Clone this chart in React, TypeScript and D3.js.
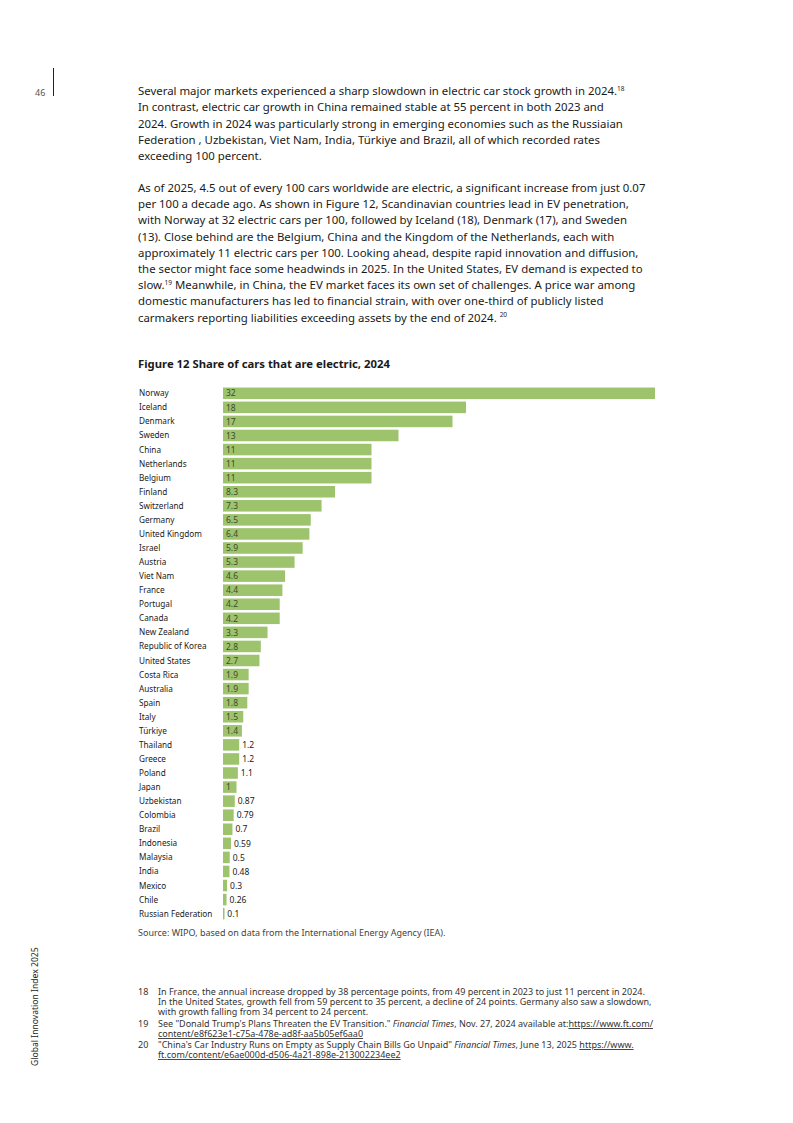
import React from "react";
import * as d3 from "d3";

const countries = [
  "Norway", "Iceland", "Denmark", "Sweden", "China", "Netherlands", "Belgium", "Finland",
  "Switzerland", "Germany", "United Kingdom", "Israel", "Austria", "Viet Nam", "France",
  "Portugal", "Canada", "New Zealand", "Republic of Korea", "United States", "Costa Rica",
  "Australia", "Spain", "Italy", "Türkiye", "Thailand", "Greece", "Poland", "Japan",
  "Uzbekistan", "Colombia", "Brazil", "Indonesia", "Malaysia", "India", "Mexico", "Chile",
  "Russian Federation",
];
const values = [
  32, 18, 17, 13, 11, 11, 11, 8.3, 7.3, 6.5, 6.4, 5.9, 5.3, 4.6, 4.4, 4.2, 4.2, 3.3, 2.8, 2.7,
  1.9, 1.9, 1.8, 1.5, 1.4, 1.2, 1.2, 1.1, 1, 0.87, 0.79, 0.7, 0.59, 0.5, 0.48, 0.3, 0.26, 0.1,
];
const xDomainMax = 32;

const para1 = [
  ["Several major markets experienced a sharp slowdown in electric car stock growth in 2024.", "18"],
  ["In contrast, electric car growth in China remained stable at 55 percent in both 2023 and", ""],
  ["2024. Growth in 2024 was particularly strong in emerging economies such as the Russiaian", ""],
  ["Federation , Uzbekistan, Viet Nam, India, Türkiye and Brazil, all of which recorded rates", ""],
  ["exceeding 100 percent.", ""],
];
const para2 = [
  ["As of 2025, 4.5 out of every 100 cars worldwide are electric, a significant increase from just 0.07", ""],
  ["per 100 a decade ago. As shown in Figure 12, Scandinavian countries lead in EV penetration,", ""],
  ["with Norway at 32 electric cars per 100, followed by Iceland (18), Denmark (17), and Sweden", ""],
  ["(13). Close behind are the Belgium, China and the Kingdom of the Netherlands, each with", ""],
  ["approximately 11 electric cars per 100. Looking ahead, despite rapid innovation and diffusion,", ""],
  ["the sector might face some headwinds in 2025. In the United States, EV demand is expected to", ""],
  ["slow.|19| Meanwhile, in China, the EV market faces its own set of challenges. A price war among", ""],
  ["domestic manufacturers has led to financial strain, with over one-third of publicly listed", ""],
  ["carmakers reporting liabilities exceeding assets by the end of 2024. ", "20"],
];

const FONT = "'Noto Sans', 'Open Sans', sans-serif";
const BAR = "#9dc36c";
const TXT = "#1a1a1a";

function BodyLine({ text, sup, x, y }: { text: string; sup: string; x: number; y: number }) {
  const parts = text.split("|");
  return (
    <text x={x} y={y} fontSize={11.4} fill={TXT} fontFamily={FONT}>
      {parts.map((p, i) =>
        i % 2 === 1 ? (
          <tspan key={i} fontSize={6.5} dy={-4.5}>{p}</tspan>
        ) : i > 0 ? (
          <tspan key={i} dy={4.5}>{p}</tspan>
        ) : (
          <tspan key={i}>{p}</tspan>
        )
      )}
      {sup ? <tspan fontSize={6.5} dy={-4.5}>{sup}</tspan> : null}
    </text>
  );
}

export default function App() {
  const x0 = 223;
  const x = d3.scaleLinear().domain([0, xDomainMax]).range([x0, 655]);
  const y = d3.scaleBand<string>().domain(countries).range([385, 385 + 38 * 14.13]).padding(0.18);

  const charW = (s: string) =>
    s.split("").reduce((a, c) => a + (c === "." ? 2.2 : 4.7), 0);

  return (
    <svg
      width={793}
      height={1123}
      viewBox="0 0 793 1123"
      style={{ position: "absolute", left: 0, top: 0, background: "#fff" }}
      fontFamily={FONT}
    >
      <rect width={793} height={1123} fill="#fff" />
      <text x={35} y={96} fontSize={9} fill="#555">46</text>
      <line x1={53.5} x2={53.5} y1={68} y2={96} stroke="#222" strokeWidth={1} />

      <text transform="translate(38,1066) rotate(-90)" fontSize={8.6} fill="#222">
        Global Innovation Index 2025
      </text>

      {para1.map((l, i) => (
        <BodyLine key={"a" + i} text={l[0]} sup={l[1]} x={138} y={95 + i * 16.3} />
      ))}
      {para2.map((l, i) => (
        <BodyLine key={"b" + i} text={l[0]} sup={l[1]} x={138} y={192 + i * 16.2} />
      ))}

      <text x={138} y={368} fontSize={11.3} fontWeight={700} fill={TXT}>
        Figure 12 Share of cars that are electric, 2024
      </text>

      {countries.map((c, i) => {
        const v = values[i];
        const yy = y(c)!;
        const bw = x(v) - x0;
        const label = String(v);
        const inside = charW(label) + 6 <= bw;
        const cy = yy + y.bandwidth() / 2;
        return (
          <g key={c}>
            <text x={139} y={cy + 3} fontSize={8.2} fill={TXT}>{c}</text>
            <rect x={x0} y={yy} width={Math.max(bw, 1.5)} height={y.bandwidth()} fill={BAR} />
            <text
              x={inside ? x0 + 3 : x(v) + 3}
              y={cy + 3.2}
              fontSize={8.5}
              fill={inside ? "#3d4a30" : TXT}
            >
              {label}
            </text>
          </g>
        );
      })}

      <text x={138} y={936} fontSize={9} fill="#444">
        Source: WIPO, based on data from the International Energy Agency (IEA).
      </text>

      <g fontSize={9} fill="#333">
        <text x={138} y={995}>
          <tspan x={138}>18</tspan>
          <tspan x={158}>In France, the annual increase dropped by 38 percentage points, from 49 percent in 2023 to just 11 percent in 2024.</tspan>
          <tspan x={158} dy={10}>In the United States, growth fell from 59 percent to 35 percent, a decline of 24 points. Germany also saw a slowdown,</tspan>
          <tspan x={158} dy={10}>with growth falling from 34 percent to 24 percent.</tspan>
          <tspan x={138} dy={12}>19</tspan>
          <tspan x={158}>See "Donald Trump's Plans Threaten the EV Transition." </tspan>
          <tspan fontStyle="italic">Financial Times</tspan>
          <tspan>, Nov. 27, 2024 available at:</tspan>
          <tspan textDecoration="underline">https://www.ft.com/</tspan>
          <tspan x={158} dy={10} textDecoration="underline">content/e8f623e1-c75a-478e-ad8f-aa5b05ef6aa0</tspan>
          <tspan x={138} dy={11}>20</tspan>
          <tspan x={158}>"China's Car Industry Runs on Empty as Supply Chain Bills Go Unpaid" </tspan>
          <tspan fontStyle="italic">Financial Times</tspan>
          <tspan>, June 13, 2025 </tspan>
          <tspan textDecoration="underline">https://www.</tspan>
          <tspan x={158} dy={10} textDecoration="underline">ft.com/content/e6ae000d-d506-4a21-898e-213002234ee2</tspan>
        </text>
      </g>
    </svg>
  );
}
